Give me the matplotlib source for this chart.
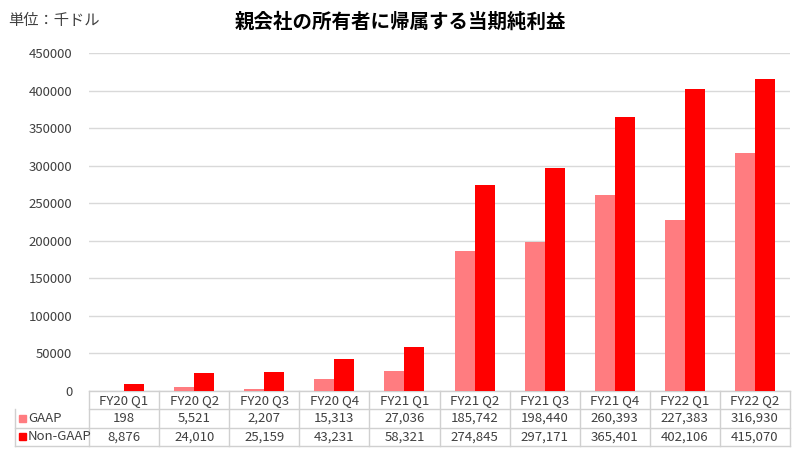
import matplotlib
matplotlib.use("Agg")
import matplotlib.pyplot as plt
from matplotlib.patches import Rectangle
import numpy as np

plt.rcParams['font.family'] = ['Noto Sans CJK JP', 'DejaVu Sans']

# data
quarters = ["FY20 Q1", "FY20 Q2", "FY20 Q3", "FY20 Q4", "FY21 Q1",
            "FY21 Q2", "FY21 Q3", "FY21 Q4", "FY22 Q1", "FY22 Q2"]
gaap = [198, 5521, 2207, 15313, 27036, 185742, 198440, 260393, 227383, 316930]
non_gaap = [8876, 24010, 25159, 43231, 58321, 274845, 297171, 365401, 402106, 415070]
series_names = ["GAAP", "Non-GAAP"]
colors = ["#FF7C80", "#FF0000"]

fig = plt.figure(figsize=(8, 4.5), dpi=100)
ax = fig.add_axes([89 / 800, 1 - 391 / 450, 701 / 800, 338 / 450])

x = np.arange(len(quarters))
w = 0.285
ax.bar(x - w / 2, gaap, w, color=colors[0], zorder=3)
ax.bar(x + w / 2, non_gaap, w, color=colors[1], zorder=3)

ax.set_xlim(-0.5, len(quarters) - 0.5)
ax.set_ylim(0, 450000)
ax.set_yticks(np.arange(0, 450001, 50000))
ax.tick_params(axis='y', length=0, labelsize=9.5, colors="#404040", pad=12)
ax.set_xticks([])
ax.grid(axis='y', color="#D9D9D9", linewidth=1, zorder=0)
for s in ax.spines.values():
    s.set_visible(False)

# data table below the plot (axes coords)
px_x = 1 / 701
px_y = 1 / 338
left = -74 * px_x
row_h = 18.3 * px_y
edge = "#D0D0D0"
rows = [quarters,
        [f"{v:,}" for v in gaap],
        [f"{v:,}" for v in non_gaap]]
n = len(quarters)
cw = 1 / n
for r in range(3):
    y_top = -r * row_h
    y_bot = y_top - row_h
    y_mid = (y_top + y_bot) / 2
    ax.plot([0 if r == 0 else left, 1], [y_bot, y_bot], color=edge, lw=1,
            transform=ax.transAxes, clip_on=False)
    for c in range(n):
        ax.text((c + 0.5) * cw, y_mid, rows[r][c],
                transform=ax.transAxes, ha="center", va="center",
                fontsize=9.5, color="#404040")
    if r > 0:
        ax.add_patch(Rectangle((left + 4 * px_x, y_mid - 3.5 * px_y),
                               7 * px_x, 7 * px_y, transform=ax.transAxes,
                               color=colors[r - 1], clip_on=False))
        ax.text(left + 13 * px_x, y_mid, series_names[r - 1],
                transform=ax.transAxes, ha="left", va="center",
                fontsize=9.5, color="#404040")
ax.plot([0, 1], [0, 0], color=edge, lw=1, transform=ax.transAxes, clip_on=False)
for c in range(n + 1):
    ax.plot([c * cw, c * cw], [0, -3 * row_h], color=edge, lw=1,
            transform=ax.transAxes, clip_on=False)
ax.plot([left, left], [-row_h, -3 * row_h], color=edge, lw=1,
        transform=ax.transAxes, clip_on=False)

fig.text(400 / 800, 1 - 22 / 450, "親会社の所有者に帰属する当期純利益",
         ha="center", va="center", fontsize=14, fontweight="bold", color="#000000")
fig.text(8 / 800, 1 - 20 / 450, "単位：千ドル", ha="left", va="center",
         fontsize=11, color="#404040")

fig.savefig("out.png", dpi=100)
